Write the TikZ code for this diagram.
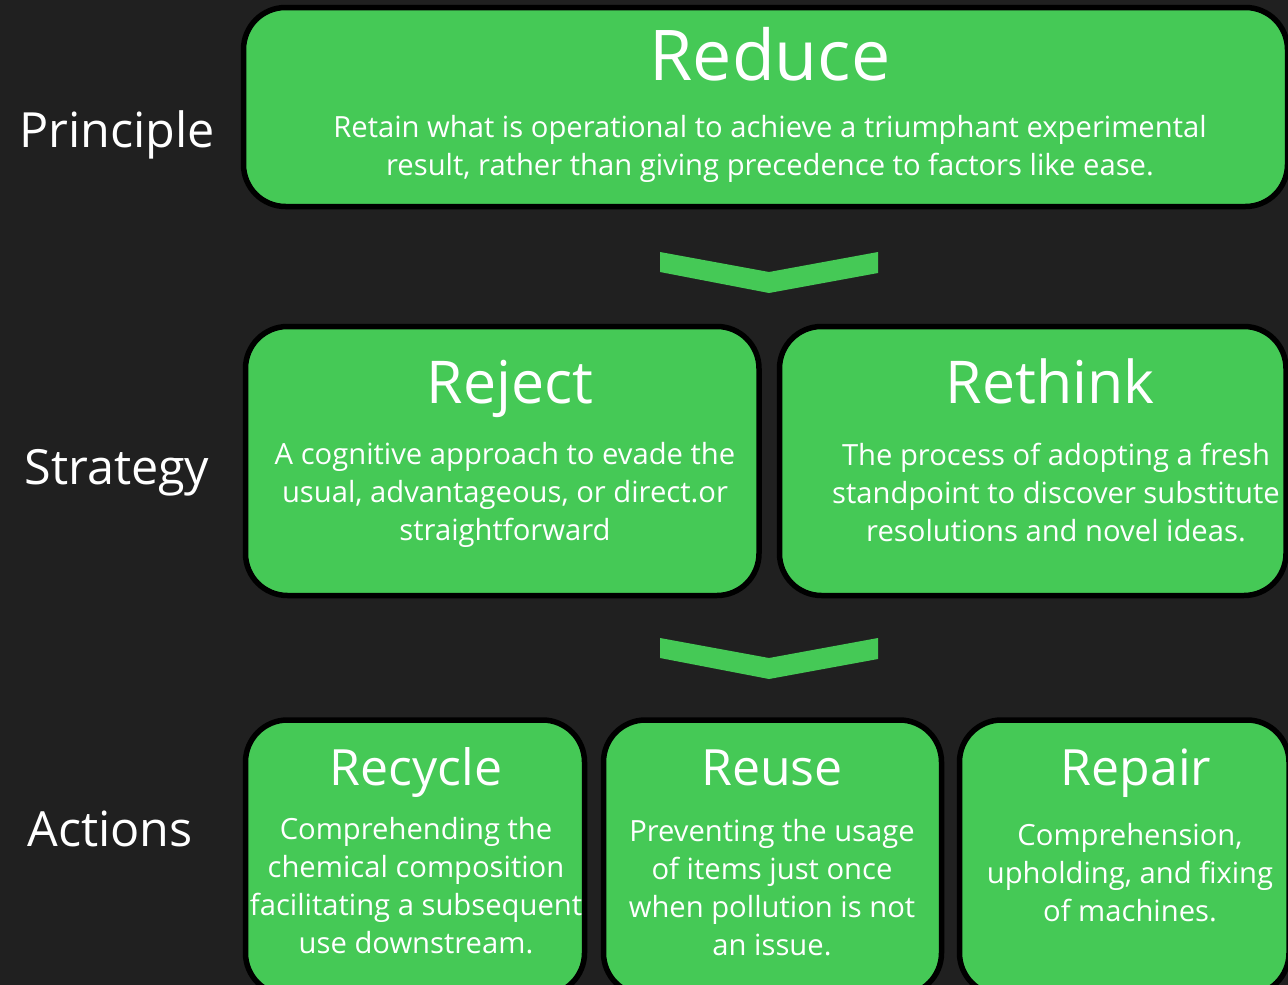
\documentclass[tikz,border=0pt]{standalone}
\usepackage{fontspec}
\setmainfont{Open Sans}
\definecolor{bg}{RGB}{32,32,32}
\definecolor{leaf}{RGB}{69,201,86}
\begin{document}
\begin{tikzpicture}[x=1pt,y=-1pt,
  card/.style={draw=black, line width=5.5pt, fill=leaf, rounded corners=42pt, rectangle, inner sep=0},
  rowlabel/.style={text=white, font=\fontsize{48.5}{58}\selectfont, anchor=base, inner sep=0},
  bigtitle/.style={text=white, font=\fontsize{70}{80}\selectfont, anchor=base, inner sep=0},
  midtitle/.style={text=white, font=\fontsize{59}{70}\selectfont, anchor=base, inner sep=0},
  smalltitle/.style={text=white, font=\fontsize{50}{60}\selectfont, anchor=base, inner sep=0},
  body/.style={text=white, font=\fontsize{29.2}{38}\selectfont, align=center, inner sep=0},
  chevron/.style={fill=leaf, draw=none}]
\clip (0,0) rectangle (1288,985);
\fill[bg] (0,0) rectangle (1288,985);

% row labels
\node[rowlabel] (lprin) at (117,147) {Principle};
\node[rowlabel] (lstrat) at (117,484) {Strategy};
\node[rowlabel] (lact) at (110,846) {Actions};

% boxes
\node[card, minimum width=1044pt, minimum height=199pt] (reduce) at (765.5,107) {};
\node[card, minimum width=513.5pt, minimum height=269pt] (reject) at (502.25,461) {};
\node[card, minimum width=506.5pt, minimum height=269pt] (rethink) at (1032.75,461) {};
\node[card, minimum width=339pt, minimum height=275pt] (recycle) at (415,857.5) {};
\node[card, minimum width=338pt, minimum height=275pt] (reuse) at (772.5,857.5) {};
\node[card, minimum width=329.5pt, minimum height=275pt] (repair) at (1124.25,857.5) {};

% titles
\node[bigtitle] (reduceT) at (770,80) {Reduce};
\node[midtitle] (rejectT) at (510,403) {Reject};
\node[midtitle] (rethinkT) at (1050,403) {Rethink};
\node[smalltitle] (recycleT) at (416,785) {Recycle};
\node[smalltitle] (reuseT) at (772,785) {Reuse};
\node[smalltitle] (repairT) at (1136,785) {Repair};

% bodies
\node[body] (reduceB) at (770,149) {Retain what is operational to achieve a triumphant experimental\\result, rather than giving precedence to factors like ease.};
\node[body] (rejectB) at (505,495) {A cognitive approach to evade the\\usual, advantageous, or direct.or\\straightforward};
\node[body] (rethinkB) at (1056,493) {The process of adopting a fresh\\standpoint to discover substitute\\resolutions and novel ideas.};
\node[body] (recycleB) at (416,886) {Comprehending the\\chemical composition\\facilitating a subsequent\\use downstream.};
\node[body] (reuseB) at (772,888) {Preventing the usage\\of items just once\\when pollution is not\\an issue.};
\node[body] (repairB) at (1130,873) {Comprehension,\\upholding, and fixing\\of machines.};

% chevrons
\fill[chevron] (660,252) -- (769,272) -- (878,252) -- (878,273) -- (769,293) -- (660,272) -- cycle;
\fill[chevron] (660,638) -- (769,658) -- (878,638) -- (878,659) -- (769,679) -- (660,658) -- cycle;
\end{tikzpicture}
\end{document}
